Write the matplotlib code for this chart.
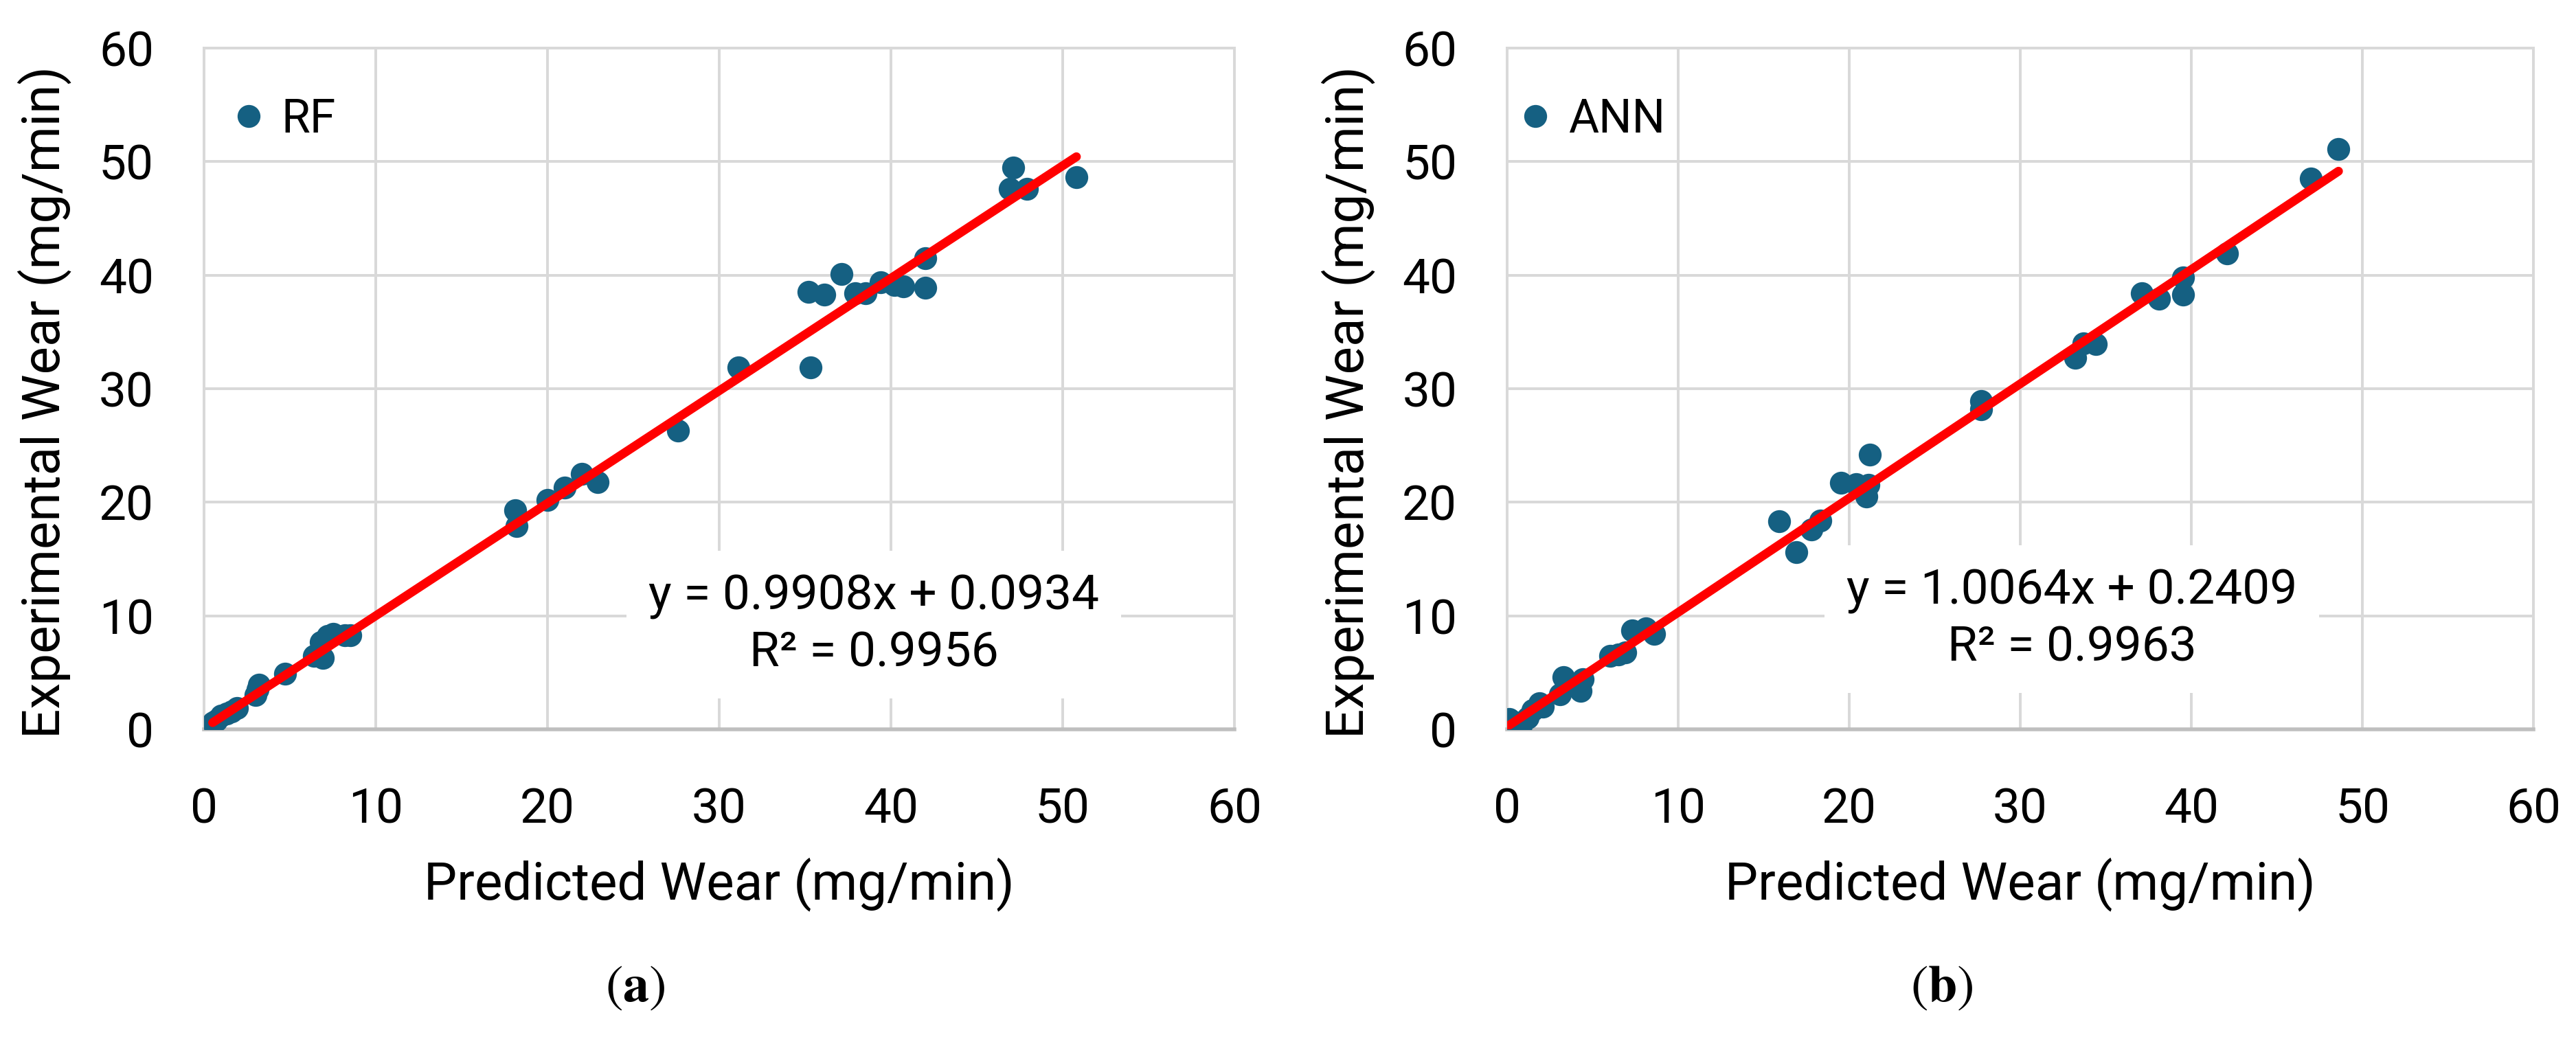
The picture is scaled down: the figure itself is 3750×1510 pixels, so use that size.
import numpy as np
import matplotlib.pyplot as plt
from matplotlib.lines import Line2D

plt.rcParams['font.family'] = ['Roboto', 'DejaVu Sans']
plt.rcParams['mathtext.fontset'] = 'stix'

# RF model: predicted vs experimental wear (mg/min)
rf_pred = [0.5, 0.7, 1.0, 1.3, 1.6, 1.9, 3.0, 3.1, 3.2, 4.7, 6.4, 6.9, 6.8, 7.2, 7.5, 8.2, 8.5,
           18.1, 18.2, 20.0, 21.0, 22.0, 22.9, 27.6,
           31.1, 35.3, 35.2, 36.1, 37.1, 37.9, 38.5, 39.4, 40.2, 40.7, 42.0, 42.0,
           47.1, 46.9, 47.9, 50.8]
rf_exp = [0.6, 0.8, 1.2, 1.4, 1.6, 1.9, 3.0, 3.5, 3.9, 4.9, 6.5, 6.3, 7.7, 8.2, 8.4, 8.3, 8.3,
          19.3, 17.9, 20.2, 21.3, 22.5, 21.8, 26.3,
          31.9, 31.9, 38.5, 38.3, 40.1, 38.4, 38.4, 39.4, 39.1, 39.0, 41.5, 38.9,
          49.5, 47.6, 47.6, 48.6]

# ANN model
ann_pred = [0.1, 0.5, 0.8, 1.2, 1.5, 1.9, 2.1, 3.1, 3.3, 4.3, 4.4, 6.0, 6.5, 6.9, 7.3, 8.1, 8.6,
            15.9, 16.9, 17.8, 18.3, 19.5, 20.4, 21.0, 21.1, 21.2, 27.7, 27.7,
            33.2, 33.7, 34.4, 37.1, 38.1, 39.5, 39.5, 42.1, 47.0, 48.6]
ann_exp = [0.9, 0.6, 0.3, 1.0, 1.7, 2.3, 2.0, 3.1, 4.6, 3.4, 4.4, 6.5, 6.6, 6.8, 8.7, 8.9, 8.4,
           18.3, 15.6, 17.6, 18.4, 21.7, 21.6, 20.5, 21.5, 24.2, 28.9, 28.2,
           32.7, 34.0, 33.9, 38.4, 37.9, 38.3, 39.8, 41.9, 48.5, 51.1]

# trendline coefficients as printed on the chart
fits = {'RF': (0.9908, 0.0934, 0.9956), 'ANN': (1.0064, 0.2409, 0.9963)}

ticks = [0, 10, 20, 30, 40, 50, 60]
dot_color = '#156082'

fig = plt.figure(figsize=(15, 6.04), dpi=250)
ax1 = fig.add_axes([0.0792, 0.2967, 0.4, 0.657])
ax2 = fig.add_axes([0.5851, 0.2967, 0.3984, 0.657])

panels = [
    (ax1, rf_pred, rf_exp, 'RF', (0.030, 0.895), (39.0, 9.2), 0.2466, '(a)'),
    (ax2, ann_pred, ann_exp, 'ANN', (0.014, 0.895), (33.0, 9.7), 0.7539, '(b)'),
]

for ax, xp, ye, name, leg_pos, txt_pos, cap_x, cap in panels:
    ax.plot(xp, ye, 'o', color=dot_color, markersize=9.6, markeredgewidth=0, zorder=3)
    m, b, r2 = fits[name]
    xs = np.array([min(xp), max(xp)])
    ax.plot(xs, m * xs + b, color='#ff0000', lw=3.7, solid_capstyle='round', zorder=4)

    ax.set_xlim(0, 60)
    ax.set_ylim(0, 60)
    ax.set_xticks(ticks)
    ax.set_yticks(ticks)
    ax.grid(True, color='#d9d9d9', lw=1.15, zorder=0)
    ax.set_axisbelow(True)
    for s in ['left', 'top', 'right']:
        ax.spines[s].set_color('#d9d9d9')
        ax.spines[s].set_linewidth(1.15)
    ax.spines['bottom'].set_color('#bfbfbf')
    ax.spines['bottom'].set_linewidth(1.6)
    ax.tick_params(axis='both', length=0, labelsize=20.5, colors='black')
    ax.tick_params(axis='x', pad=24)
    ax.tick_params(axis='y', pad=21)

    ax.set_xlabel('Predicted Wear (mg/min)', fontsize=22)
    ax.xaxis.set_label_coords(0.5, -0.228)
    ax.xaxis.label.set_va('center')
    ax.set_ylabel('Experimental Wear (mg/min)', fontsize=22)
    ax.yaxis.set_label_coords(-0.155, 0.48)
    ax.yaxis.label.set_va('center')

    handle = Line2D([], [], marker='o', ls='', color=dot_color, markersize=9.6, markeredgewidth=0)
    ax.legend([handle], [name], loc='center left', bbox_to_anchor=leg_pos, frameon=False,
              fontsize=19.5, handlelength=0.6, handletextpad=0.4, borderpad=0, borderaxespad=0)

    ax.text(txt_pos[0], txt_pos[1], 'y = %.4fx + %.4f\nR\u00b2 = %.4f' % (m, b, r2),
            fontsize=20.5, ha='center', va='center', multialignment='center', linespacing=1.3,
            bbox=dict(boxstyle='square,pad=0.45', fc='white', ec='none'), zorder=2)

    fig.text(cap_x, 1 - 1437 / 1510, r'$(\mathbf{%s})$' % cap[1], fontsize=22,
             ha='center', va='center')

fig.savefig('out.png', dpi=250)
